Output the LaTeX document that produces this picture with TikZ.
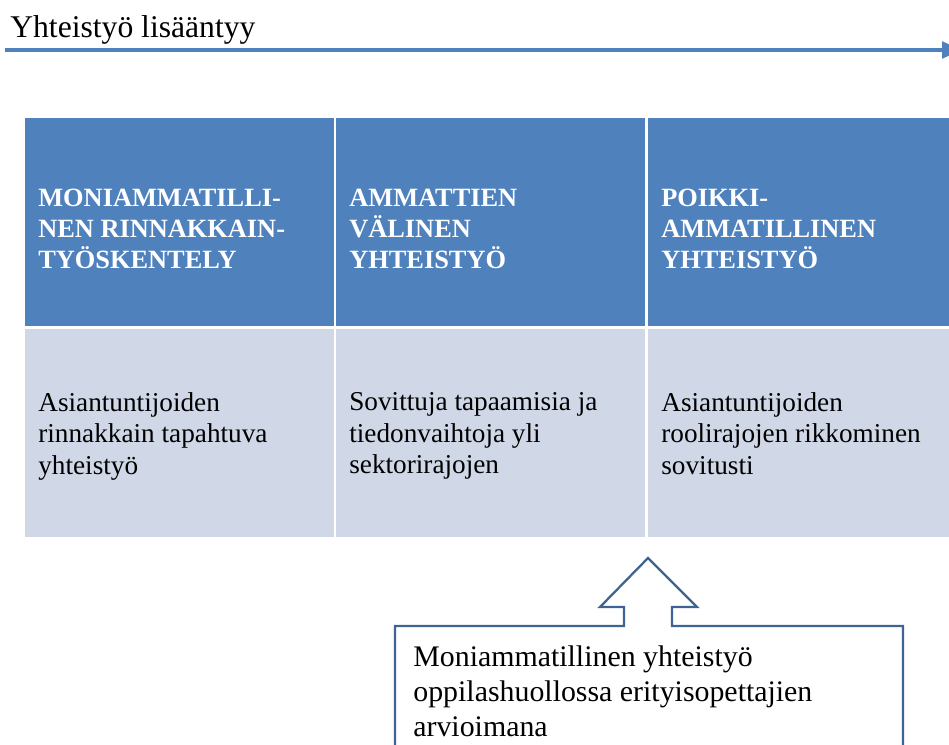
\documentclass[tikz,border=0pt]{standalone}
\usepackage{xcolor}
\usepackage{fontspec}
\setmainfont{Liberation Serif}
\usepackage{tikz}
\usetikzlibrary{arrows.meta,positioning}

\begin{document}
\begin{tikzpicture}[x=0.02cm, y=-0.02cm,
    headcell/.style={fill=headblue, minimum width=6.18cm, minimum height=4.16cm, inner sep=0pt, outer sep=0pt, anchor=north west},
    bodycell/.style={fill=bodyblue, minimum width=6.18cm, minimum height=4.16cm, inner sep=0pt, outer sep=0pt, anchor=north west},
    headtext/.style={text=white, font=\fontsize{15}{17.5}\selectfont\bfseries, align=left, inner sep=0pt, anchor=north west},
    bodytext/.style={font=\fontsize{15.5}{18}\selectfont, align=left, inner sep=0pt, anchor=north west},
    trend/.style={line width=2.8pt, draw=headblue, -{Triangle[length=0.4cm, width=0.32cm]}},
    notebox/.style={line width=1.3pt, draw=noteblue, fill=white, line join=miter}]
        % Define colors
        \definecolor{headblue}{HTML}{4F81BD}
        \definecolor{bodyblue}{HTML}{D0D8E8}
        \definecolor{noteblue}{HTML}{3E6494}

        \useasboundingbox (0,0) rectangle (949,744);
        \clip (0,0) rectangle (949,744);

        % Title and the trend arrow
        \node[font=\fontsize{18}{21}\selectfont, inner sep=0pt, anchor=north west] (title) at (10,15) {Yhteistyö lisääntyy};
        \coordinate (trendstart) at (5,50);
        \coordinate (trendend) at (962,50);
        \draw[trend] (trendstart) -- (trendend);

        % Table cells
        \foreach \c/\x in {1/25, 2/336, 3/648} {
            \node[headcell] (head\c) at (\x,118) {};
            \node[bodycell] (body\c) at (\x,329) {};
        }

        % Header texts
        \node[headtext] (headtext1) at (38,189) {MONIAMMATILLI-\\NEN RINNAKKAIN-\\TYÖSKENTELY};
        \node[headtext] (headtext2) at (349,189) {AMMATTIEN\\VÄLINEN\\YHTEISTYÖ};
        \node[headtext] (headtext3) at (661,189) {POIKKI-\\AMMATILLINEN\\YHTEISTYÖ};

        % Body texts
        \node[bodytext] (bodytext1) at (38,392) {Asiantuntijoiden\\rinnakkain tapahtuva\\yhteistyö};
        \node[bodytext] (bodytext2) at (349,392) {Sovittuja tapaamisia ja\\tiedonvaihtoja yli\\sektorirajojen};
        \node[bodytext] (bodytext3) at (661,392) {Asiantuntijoiden\\roolirajojen rikkominen\\sovitusti};

        % Callout box with the arrow up
        \draw[notebox] (395,770) -- (395,626) -- (624,626) -- (624,607) -- (600,607)
            -- (648,558) -- (697,607) -- (672,607) -- (672,626) -- (903,626) -- (903,770);
        \node[font=\fontsize{17}{20}\selectfont, align=left, inner sep=0pt, anchor=north west] (note) at (413,645)
            {Moniammatillinen yhteistyö\\oppilashuollossa erityisopettajien\\arvioimana};
\end{tikzpicture}
\end{document}
